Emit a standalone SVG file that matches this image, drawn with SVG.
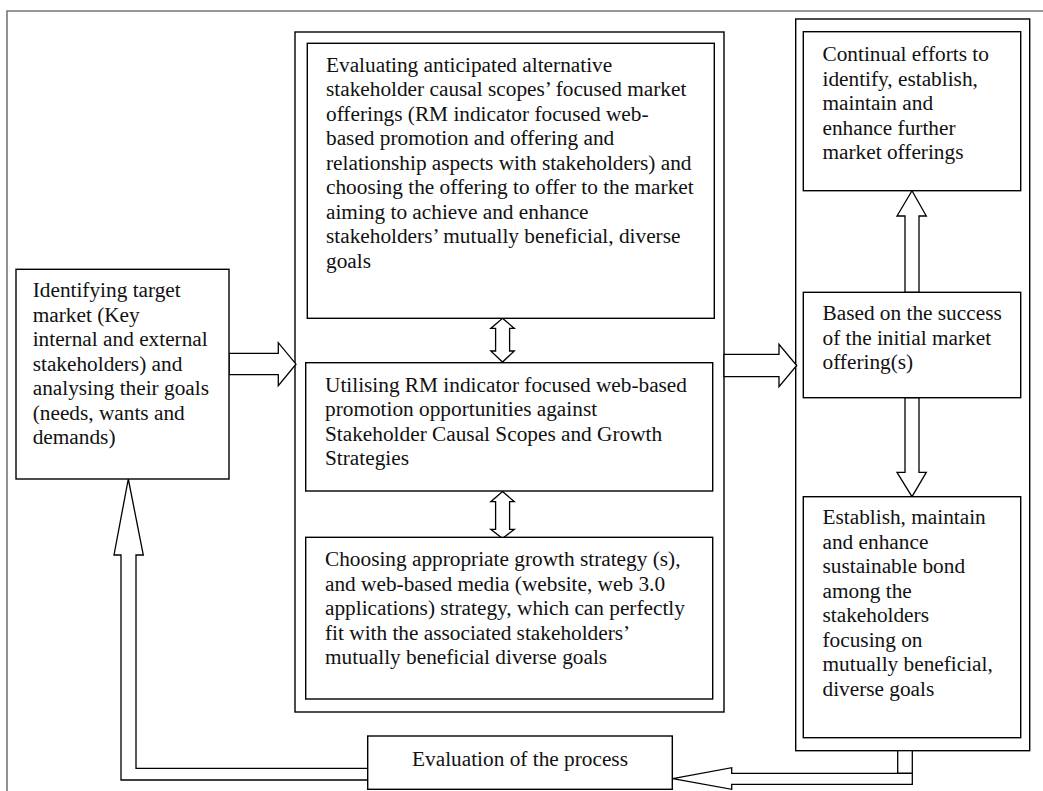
<svg xmlns="http://www.w3.org/2000/svg" width="1043" height="791" viewBox="0 0 1043 791">
<style>
.box{fill:#fff;stroke:#000;stroke-width:1.4}
.frame{fill:none;stroke:#777;stroke-width:1.6}
.arr{fill:#fff;stroke:#000;stroke-width:1.3;stroke-linejoin:miter}
text{font-family:"Liberation Serif","Times New Roman",serif;font-size:21.3px;fill:#111}
</style>
<rect width="1043" height="791" fill="#fff"/>
<path class="frame" d="M7,791 V11 H1043"/>
<g id="frame-center"><rect class="box" x="295" y="32" width="429" height="680"/></g>
<g id="frame-right"><rect class="box" x="795.7" y="19" width="234" height="731.7"/></g>
<g id="connectors">
<polygon class="arr" points="229,353.3 278.3,353.3 278.3,342.7 296,364.2 278.3,385.7 278.3,374.7 229,374.7"/>
<polygon class="arr" points="724,354.3 779,354.3 779,344.3 796.7,365.5 779,386.7 779,376.7 724,376.7"/>
<polygon class="arr" points="502.5,318.3 514.3,328.4 509.6,328.4 509.6,351 514.3,351 502.5,362 490.8,351 495.6,351 495.6,328.4 490.8,328.4"/>
<polygon class="arr" points="502.5,491.5 514.3,501.7 509.6,501.7 509.6,529.3 514.3,529.3 502.5,538.5 490.8,529.3 495.6,529.3 495.6,501.7 490.8,501.7"/>
<polygon class="arr" points="905,292.3 905,216 897,216 912,190.7 926.3,216 919,216 919,292.3"/>
<polygon class="arr" points="905,397.7 905,472.3 897,472.3 912,496.7 926.3,472.3 919,472.3 919,397.7"/>
<rect class="arr" x="897.7" y="750.7" width="14.6" height="22.6"/>
<polygon class="arr" points="912.3,773.3 912.3,784.3 731.7,784.3 731.7,789.3 672.7,778.6 731.7,767.7 731.7,773.3"/>
<polygon class="arr" points="367.7,768.3 136,768.3 136,555 143.3,555 128.3,479 114,555 121,555 121,780 367.7,780"/>
</g>
<g id="node-identify">
<rect class="box" x="16" y="269.3" width="213" height="209.7"/>
<text x="32.7" y="297.3">Identifying target</text>
<text x="32.7" y="321.8">market (Key</text>
<text x="32.7" y="346.3">internal and external</text>
<text x="32.7" y="370.8">stakeholders) and</text>
<text x="32.7" y="395.3">analysing their goals</text>
<text x="32.7" y="419.8">(needs, wants and</text>
<text x="32.7" y="444.3">demands)</text>
</g>
<g id="node-evaluating">
<rect class="box" x="307.3" y="43.3" width="407" height="275"/>
<text x="326" y="71.5">Evaluating anticipated alternative</text>
<text x="326" y="96">stakeholder causal scopes’ focused market</text>
<text x="326" y="120.5">offerings (RM indicator focused web-</text>
<text x="326" y="145">based promotion and offering and</text>
<text x="326" y="169.5">relationship aspects with stakeholders) and</text>
<text x="326" y="194">choosing the offering to offer to the market</text>
<text x="326" y="218.5">aiming to achieve and enhance</text>
<text x="326" y="243">stakeholders’ mutually beneficial, diverse</text>
<text x="326" y="267.5">goals</text>
</g>
<g id="node-utilising">
<rect class="box" x="305.7" y="362.7" width="407" height="128.3"/>
<text x="325" y="391.5">Utilising RM indicator focused web-based</text>
<text x="325" y="416">promotion opportunities against</text>
<text x="325" y="440.5">Stakeholder Causal Scopes and Growth</text>
<text x="325" y="465">Strategies</text>
</g>
<g id="node-choosing">
<rect class="box" x="305.7" y="537.3" width="407" height="161.7"/>
<text x="325" y="566">Choosing appropriate growth strategy (s),</text>
<text x="325" y="590.5">and web-based media (website, web 3.0</text>
<text x="325" y="615">applications) strategy, which can perfectly</text>
<text x="325" y="639.5">fit with the associated stakeholders’</text>
<text x="325" y="664">mutually beneficial diverse goals</text>
</g>
<g id="node-continual">
<rect class="box" x="803.3" y="31.7" width="217.4" height="159"/>
<text x="822.5" y="61">Continual efforts to</text>
<text x="822.5" y="85.5">identify, establish,</text>
<text x="822.5" y="110">maintain and</text>
<text x="822.5" y="134.5">enhance further</text>
<text x="822.5" y="159">market offerings</text>
</g>
<g id="node-based">
<rect class="box" x="803.3" y="292.3" width="217.4" height="105.4"/>
<text x="822.5" y="320.3">Based on the success</text>
<text x="822.5" y="344.8">of the initial market</text>
<text x="822.5" y="369.3">offering(s)</text>
</g>
<g id="node-establish">
<rect class="box" x="803.3" y="496.7" width="217.4" height="241"/>
<text x="822.5" y="524.3">Establish, maintain</text>
<text x="822.5" y="548.8">and enhance</text>
<text x="822.5" y="573.3">sustainable bond</text>
<text x="822.5" y="597.8">among the</text>
<text x="822.5" y="622.3">stakeholders</text>
<text x="822.5" y="646.8">focusing on</text>
<text x="822.5" y="671.3">mutually beneficial,</text>
<text x="822.5" y="695.8">diverse goals</text>
</g>
<g id="node-evaluation">
<rect class="box" x="367.7" y="736" width="304.6" height="53.3"/>
<text x="520" y="766" text-anchor="middle">Evaluation of the process</text>
</g>
</svg>
